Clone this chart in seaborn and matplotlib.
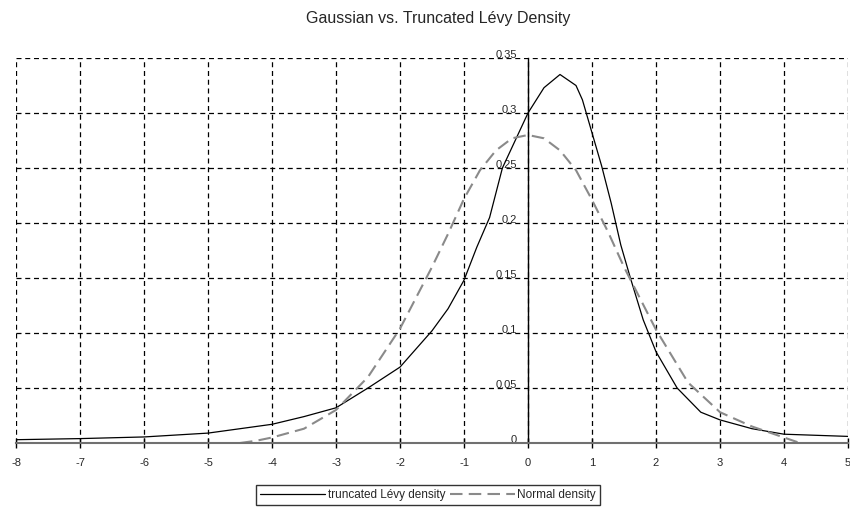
import matplotlib
matplotlib.use("Agg")
import matplotlib.pyplot as plt
import seaborn as sns

# values
levy_x = [-8, -7, -6, -5, -4.5, -4, -3.5, -3, -2.5, -2, -1.5, -1.25, -1, -0.8, -0.6,
          -0.4, -0.2, 0, 0.25, 0.5, 0.75, 0.85, 1, 1.15, 1.3, 1.45, 1.6, 1.8, 2,
          2.33, 2.7, 3, 3.5, 4, 4.5, 5]
levy_y = [0.003, 0.004, 0.0055, 0.009, 0.013, 0.017, 0.024, 0.032, 0.05, 0.069, 0.102,
          0.122, 0.148, 0.178, 0.205, 0.25, 0.275, 0.300, 0.323, 0.335, 0.325, 0.312,
          0.282, 0.252, 0.218, 0.18, 0.15, 0.112, 0.083, 0.05, 0.028, 0.021, 0.013,
          0.008, 0.007, 0.006]

normal_x = [-4.5, -4.25, -4, -3.5, -3, -2.5, -2, -1.5, -1.25, -1, -0.75, -0.5, -0.25, 0,
            0.25, 0.5, 0.75, 1, 1.25, 1.5, 2, 2.5, 3, 3.5, 4, 4.25]
normal_y = [0.0, 0.002, 0.005, 0.013, 0.030, 0.060, 0.104, 0.160, 0.190, 0.222, 0.248,
            0.266, 0.277, 0.280, 0.277, 0.266, 0.248, 0.221, 0.192, 0.160, 0.103, 0.055,
            0.028, 0.015, 0.005, 0.0]

x_ticks = list(range(-8, 6))
y_ticks = [0, 0.05, 0.1, 0.15, 0.2, 0.25, 0.3, 0.35]
y_labels = ["0", "0.05", "0.1", "0.15", "0.2", "0.25", "0.3", "0.35"]

sns.set_style("white")
plt.rcParams["font.family"] = ["Liberation Sans", "DejaVu Sans"]
plt.rcParams["axes.unicode_minus"] = False

fig, ax = plt.subplots(figsize=(8.5, 5.15), dpi=100)
fig.subplots_adjust(left=16 / 850, right=848 / 850, bottom=1 - 443 / 515, top=1 - 58 / 515)

sns.lineplot(x=levy_x, y=levy_y, ax=ax, color="black", linewidth=0.9,
             sort=False, label="truncated Lévy density")
sns.lineplot(x=normal_x, y=normal_y, ax=ax, color="#8a8a8a", linewidth=1.5,
             sort=False, label="Normal density", linestyle=(0, (6, 3)))

ax.set_xlim(-8, 5)
ax.set_ylim(0, 0.35)
ax.set_xticks(x_ticks)
ax.set_yticks(y_ticks)
ax.set_yticklabels(y_labels)
ax.set_xlabel("")
ax.set_ylabel("")

ax.grid(True, color="black", linestyle=(0, (4, 3)), linewidth=0.9)
ax.set_axisbelow(True)

for s in ["top", "right"]:
    ax.spines[s].set_visible(False)
ax.spines["left"].set_position(("data", 0))
ax.spines["left"].set_color("black")
ax.spines["left"].set_linewidth(1)
ax.spines["bottom"].set_color("#707070")
ax.spines["bottom"].set_linewidth(1.5)

ax.tick_params(axis="x", direction="inout", length=7, width=1, color="black",
               pad=7, labelsize=8)
ax.tick_params(axis="y", length=0, pad=8, labelsize=8)
ax.xaxis.set_ticks_position("bottom")
for lbl in ax.get_yticklabels():
    lbl.set_verticalalignment("baseline")

fig.text(438 / 850, 1 - 18 / 515, "Gaussian vs. Truncated Lévy Density",
         ha="center", va="center", fontsize=11.5)

handles, labels = ax.get_legend_handles_labels()
ax.get_legend().remove()
leg = fig.legend(handles, labels, loc="center", bbox_to_anchor=(428 / 850, 1 - 495 / 515),
                 ncol=2, fontsize=8.5, frameon=True, fancybox=False, edgecolor="black",
                 handlelength=5.5, columnspacing=0.4, handletextpad=0.2, borderpad=0.35)
leg.get_frame().set_linewidth(1)

plt.savefig("out.png", dpi=100)
